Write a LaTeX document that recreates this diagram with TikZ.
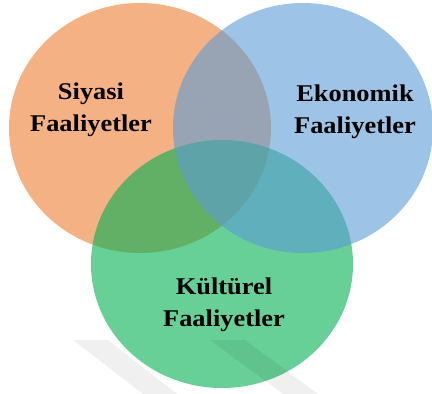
\documentclass[tikz,border=0pt]{standalone}
\usepackage{fontspec}
\setmainfont{Liberation Serif}[FakeStretch=1.1]
\begin{document}
\begin{tikzpicture}[x=1pt,y=-1pt,
  setcircle/.style={fill opacity=0.6,draw=none},
  setlabel/.style={align=center,font=\bfseries\fontsize{24}{32}\selectfont,text=black},
  mark stripe/.style={fill=black,fill opacity=0.06,draw=none}]
  \useasboundingbox (0,0) rectangle (432,394);
  % three overlapping sets: orange, then green, then blue on top
  \fill[setcircle,fill={rgb,255:red,237;green,125;blue,49}] (140,128) ellipse [x radius=131,y radius=125];
  \fill[setcircle,fill={rgb,255:red,0;green,176;blue,80}] (222,264) ellipse [x radius=131,y radius=124];
  \fill[setcircle,fill={rgb,255:red,91;green,155;blue,213}] (303,128) ellipse [x radius=130,y radius=125];
  % faint stripes at the bottom
  \fill[mark stripe] (73,340) -- (108,340) -- (177,394) -- (143,394) -- cycle;
  \fill[mark stripe] (210,340) -- (245,340) -- (318,394) -- (283,394) -- cycle;
  % labels
  \node[setlabel] (siyasi) at (91,110) {Siyasi\\Faaliyetler};
  \node[setlabel] (ekonomik) at (355,112) {Ekonomik\\Faaliyetler};
  \node[setlabel] (kulturel) at (224,305) {Kültürel\\Faaliyetler};
\end{tikzpicture}
\end{document}
